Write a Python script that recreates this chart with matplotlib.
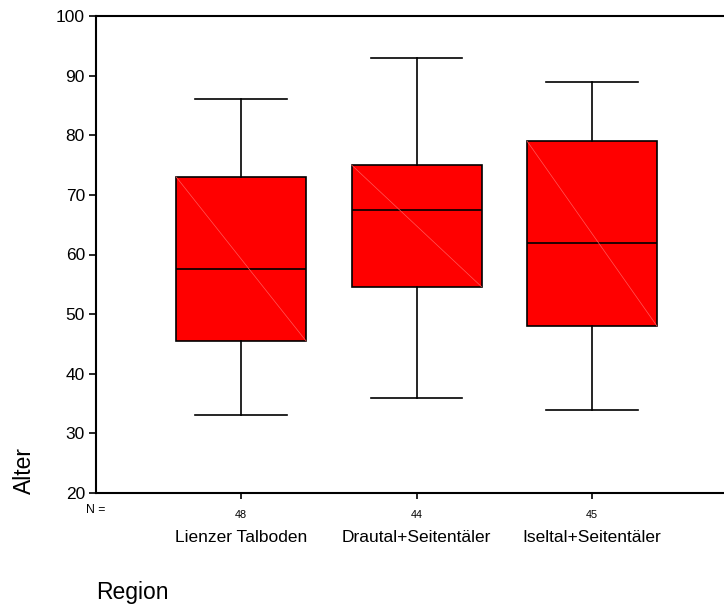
import matplotlib.pyplot as plt
import matplotlib.transforms as mtransforms

plt.rcParams["font.family"] = ["Liberation Sans", "DejaVu Sans"]

# ------------------------------------------------------------
# Data
# ------------------------------------------------------------

REGIONS = ["Lienzer Talboden", "Drautal+Seitentäler", "Iseltal+Seitentäler"]
N_COUNTS = [48, 44, 45]

WHISKER_LOW = [33, 36, 34]
Q1 = [45.5, 54.6, 48]
MEDIAN = [57.6, 67.4, 62]
Q3 = [73, 75, 79]
WHISKER_HIGH = [86, 93, 89]

BOX_COLOR = "#ff0000"
DIAG_COLOR = "#ff5a5a"

# ------------------------------------------------------------
# Figure
# ------------------------------------------------------------

fig = plt.figure(figsize=(7.24, 6.06), dpi=100)
ax = fig.add_axes([96 / 724, 1 - 493 / 606, 1 - 96 / 724, (493 - 16) / 606])

positions = [1, 2, 3]
box_width = 0.74

stats = []
for i in range(len(REGIONS)):
    stats.append({
        "whislo": WHISKER_LOW[i],
        "q1": Q1[i],
        "med": MEDIAN[i],
        "q3": Q3[i],
        "whishi": WHISKER_HIGH[i],
        "fliers": [],
    })

ax.bxp(
    stats,
    positions=positions,
    widths=box_width,
    capwidths=0.52,
    patch_artist=True,
    showfliers=False,
    boxprops=dict(facecolor=BOX_COLOR, edgecolor="black", linewidth=1.2),
    medianprops=dict(color="black", linewidth=1.2),
    whiskerprops=dict(color="black", linewidth=1.2),
    capprops=dict(color="black", linewidth=1.2),
)

# faint diagonal seam inside each box (SPSS rendering artefact)
for p, lo, hi in zip(positions, Q1, Q3):
    ax.plot([p - box_width / 2, p + box_width / 2], [hi, lo],
            color=DIAG_COLOR, linewidth=0.5, zorder=2.5)

ax.set_ylim(20, 100)
ax.set_xlim(0.173, 3.752)
ax.set_yticks(range(20, 101, 10))
ax.tick_params(axis="y", labelsize=12.5, length=5, width=1.2, pad=3)

ax.set_xticks(positions)
ax.set_xticklabels([str(n) for n in N_COUNTS])
ax.tick_params(axis="x", labelsize=7.8, length=4, width=1.2, pad=8)

for side in ["left", "bottom", "top"]:
    ax.spines[side].set_linewidth(1.5)
ax.spines["right"].set_visible(False)

# category labels and "N =" below the axis
trans = mtransforms.blended_transform_factory(ax.transData, fig.transFigure)
for p, name in zip(positions, REGIONS):
    ax.text(p, 1 - 538 / 606, name, transform=trans, ha="center",
            va="center", fontsize=12.5)

fig.text(95.5 / 724, 1 - 510 / 606, "N =", ha="center", va="center",
         fontsize=8.8)

fig.text(24 / 724, 1 - 471 / 606, "Alter", rotation=90, ha="center",
         va="center", fontsize=16.5)
fig.text(96 / 724, 1 - 592 / 606, "Region", ha="left", va="center",
         fontsize=16.5)

fig.savefig("out.png", dpi=100)
